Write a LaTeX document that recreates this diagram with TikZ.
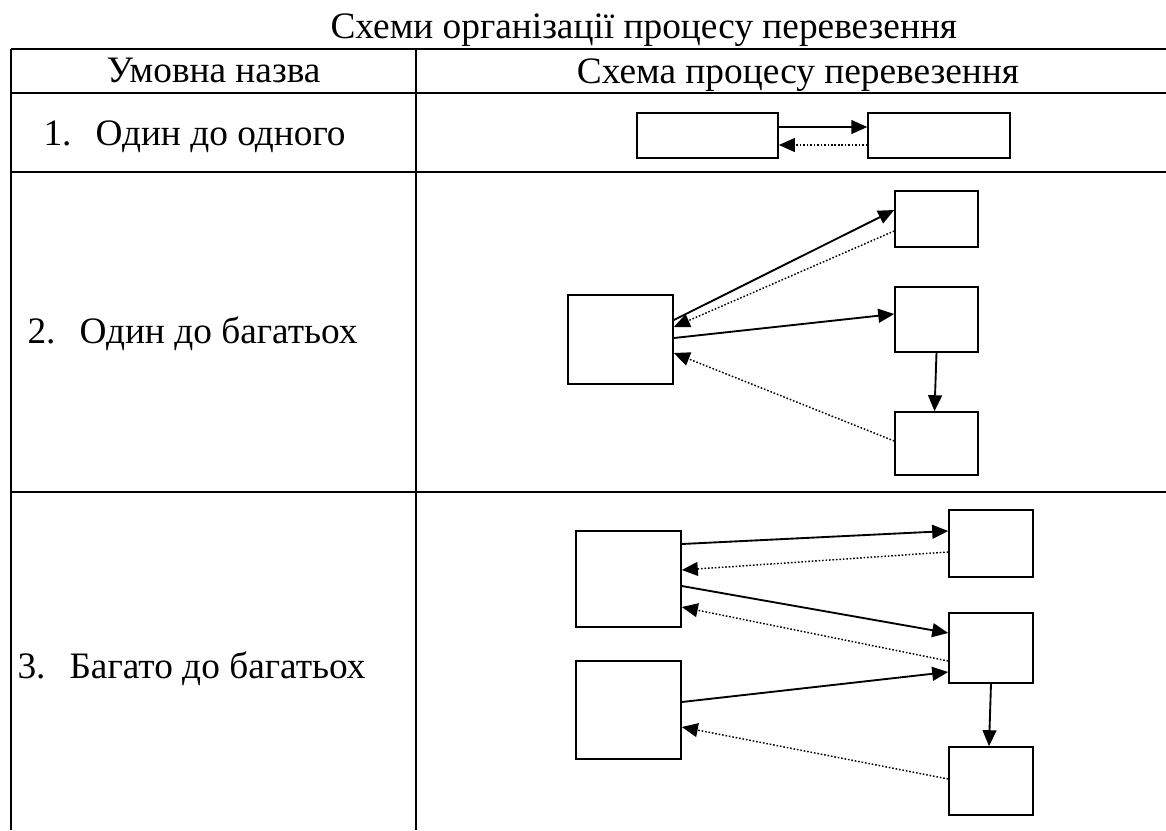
\documentclass[tikz,border=0pt]{standalone}
\usepackage{fontspec}
\setmainfont{Liberation Serif}
\usetikzlibrary{arrows.meta,calc}

\begin{document}
\begin{tikzpicture}[
  x=0.375pt, y=-0.375pt,
  font=\fontsize{14}{17}\selectfont,
  rule/.style={line width=0.8pt},
  txt/.style={anchor=base west, inner sep=0pt},
  box/.style n args={2}{draw, line width=0.6pt, inner sep=0pt,
    minimum width=#1, minimum height=#2},
  fwd/.style={-{Triangle[length=6pt, width=5.2pt]}, line width=0.7pt},
  ret/.style={fwd, line width=0.55pt, dash pattern=on 0.6pt off 0.7pt}
]
\useasboundingbox (0,0) rectangle (1166,830);

% table grid
\draw[rule] (11,49) -- (1166,49) (11,93) -- (1166,93)
  (11,172) -- (1166,172) (11,492) -- (1166,492);
\draw[rule] (11,49) -- (11,830) (416,49) -- (416,830);

\node[txt] (title) at (330,38) {Схеми організації процесу перевезення};
\node[txt, anchor=base] (hname) at (213.5,82) {Умовна назва};
\node[txt, anchor=base] (hscheme) at (798,83) {Схема процесу перевезення};

\node[txt] (name1) at (43,145) {1.\hspace{9pt}Один до одного};
\node[txt] (name2) at (27,343) {2.\hspace{9pt}Один до багатьох};
\node[txt] (name3) at (17,678) {3.\hspace{9pt}Багато до багатьох};

% one to one
\node[box={52.9pt}{16.9pt}] (oa) at (707.5,135.5) {};
\node[box={53.2pt}{16.9pt}] (ob) at (939,135.5) {};
\draw[fwd] ($(oa.east)+(0,-8.5)$) -- ($(ob.west)+(0,-8.5)$);
\draw[ret] ($(ob.west)+(0,9.5)$) -- ($(oa.east)+(0,9.5)$);

% one to many
\node[box={39.4pt}{33.4pt}] (src) at (620.5,339.5) {};
\node[box={31.1pt}{21pt}] (dtop) at (936.5,219) {};
\node[box={31.1pt}{24.4pt}] (dmid) at (936.5,319.5) {};
\node[box={31.1pt}{23.6pt}] (dbot) at (936.5,443.5) {};
\draw[fwd] ($(src.east)+(0,-19.5)$) -- ($(dtop.west)+(0,-9)$);
\draw[ret] ($(dtop.west)+(0,12)$) -- ($(src.east)+(0,-12.5)$);
\draw[fwd] ($(src.east)+(0,-1.5)$) -- ($(dmid.west)+(0,-5.5)$);
\draw[ret] ($(dbot.west)+(0,-2.5)$) -- ($(src.east)+(0,13.5)$);
\draw[fwd] (dmid.south) -- ($(dbot.north)+(-2,0)$);

% many to many
\node[box={39.4pt}{36pt}] (srca) at (628.5,579) {};
\node[box={39.4pt}{36.8pt}] (srcb) at (628.5,710) {};
\node[box={31.5pt}{25.1pt}] (ttop) at (991,543.5) {};
\node[box={31.5pt}{26.2pt}] (tmid) at (991,648) {};
\node[box={31.5pt}{25.5pt}] (tbot) at (991,781) {};
\draw[fwd] ($(srca.east)+(0,-35)$) -- ($(ttop.west)+(0,-12.5)$);
\draw[ret] ($(ttop.west)+(0,8.5)$) -- ($(srca.east)+(0,-9)$);
\draw[fwd] ($(srca.east)+(0,7)$) -- ($(tmid.west)+(0,-15)$);
\draw[ret] ($(tmid.west)+(0,13)$) -- ($(srca.east)+(0,28)$);
\draw[fwd] ($(srcb.east)+(0,-8)$) -- ($(tmid.west)+(0,24)$);
\draw[ret] ($(tbot.west)+(0,-2)$) -- ($(srcb.east)+(0,17)$);
\draw[fwd] (tmid.south) -- ($(tbot.north)+(-2,0)$);
\end{tikzpicture}
\end{document}
